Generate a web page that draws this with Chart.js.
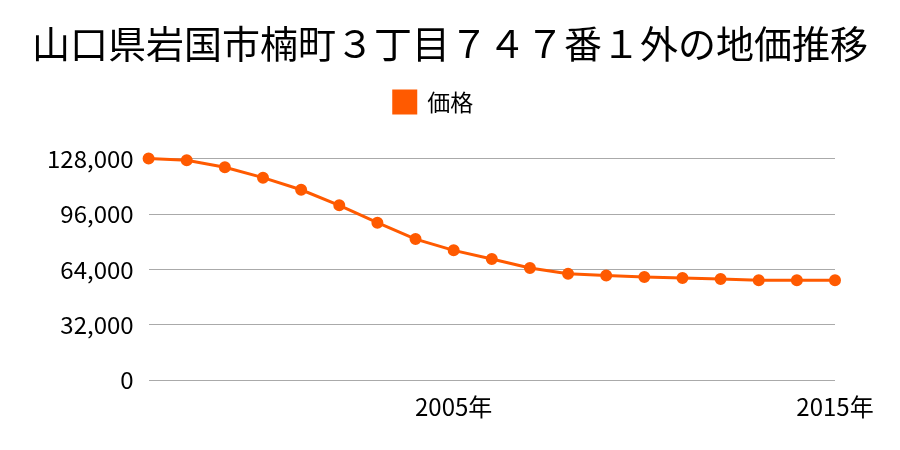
<!DOCTYPE html>
<html>
<head>
<meta charset="utf-8">
<script src="https://cdn.jsdelivr.net/npm/chart.js@4"></script>
<style>
html,body{margin:0;padding:0;background:#fff;}
#wrap{width:900px;height:450px;}
</style>
</head>
<body>
<div id="wrap"><canvas id="c" width="900" height="450"></canvas></div>
<script>
const titleText = "山口県岩国市楠町３丁目７４７番１外の地価推移";
const seriesName = "価格";
const years = [1997,1998,1999,2000,2001,2002,2003,2004,2005,2006,2007,2008,2009,2010,2011,2012,2013,2014,2015];
const prices = [128000,127000,123000,117000,110000,101000,91000,81500,75000,70000,64800,61500,60500,59600,59000,58400,57800,57800,57800];
const yTicks = [0,32000,64000,96000,128000];
const labels = years.map(y => y + "年");

Chart.defaults.font.family = "'Noto Sans CJK JP', 'Noto Sans', sans-serif";
Chart.defaults.color = "#000";

const legendMargin = {
  id: 'legendMargin',
  beforeInit(chart) {
    const origFit = chart.legend.fit;
    chart.legend.fit = function() {
      origFit.bind(chart.legend)();
      this.height += 35;
    };
  },
  afterLayout(chart) {
    const t = chart.titleBlock;
    if (t) {
      t.left = 0;
      t.right = chart.width;
      t.width = chart.width;
    }
  }
};

new Chart(document.getElementById('c'), {
  type: 'line',
  data: {
    labels: labels,
    datasets: [{
      label: seriesName,
      data: prices,
      borderColor: '#ff5a00',
      backgroundColor: '#ff5a00',
      pointBackgroundColor: '#ff5a00',
      pointBorderColor: '#ff5a00',
      borderWidth: 3,
      pointRadius: 4.5,
      tension: 0,
      fill: false,
      clip: false
    }]
  },
  options: {
    responsive: false,
    animation: false,
    layout: { padding: { left: 32, right: 65, top: 0, bottom: 17 } },
    plugins: {
      title: {
        display: true,
        text: titleText,
        font: { size: 38, weight: 'normal' },
        color: '#000',
        padding: { top: 21, bottom: 14 }
      },
      legend: {
        display: true,
        labels: {
          boxWidth: 22,
          boxHeight: 22,
          font: { size: 23 },
          color: '#000',
          padding: 10
        }
      },
      tooltip: { enabled: false }
    },
    scales: {
      x: {
        offset: false,
        grid: { display: false, drawTicks: false },
        border: { display: false },
        ticks: {
          autoSkip: false,
          maxRotation: 0,
          font: { size: 24 },
          color: '#000',
          padding: 12,
          callback: function(v, i) {
            return (years[i] % 10 === 5) ? labels[i] : '';
          }
        }
      },
      y: {
        min: 0,
        max: 128000,
        afterBuildTicks: function(axis) { axis.ticks = yTicks.map(v => ({ value: v })); },
        grid: { color: '#aaaaaa', lineWidth: 1, drawTicks: false },
        border: { display: false },
        ticks: {
          font: { size: 24 },
          color: '#000',
          padding: 15,
          callback: function(v) { return v.toLocaleString('en-US'); }
        }
      }
    }
  },
  plugins: [legendMargin]
});
</script>
</body>
</html>
